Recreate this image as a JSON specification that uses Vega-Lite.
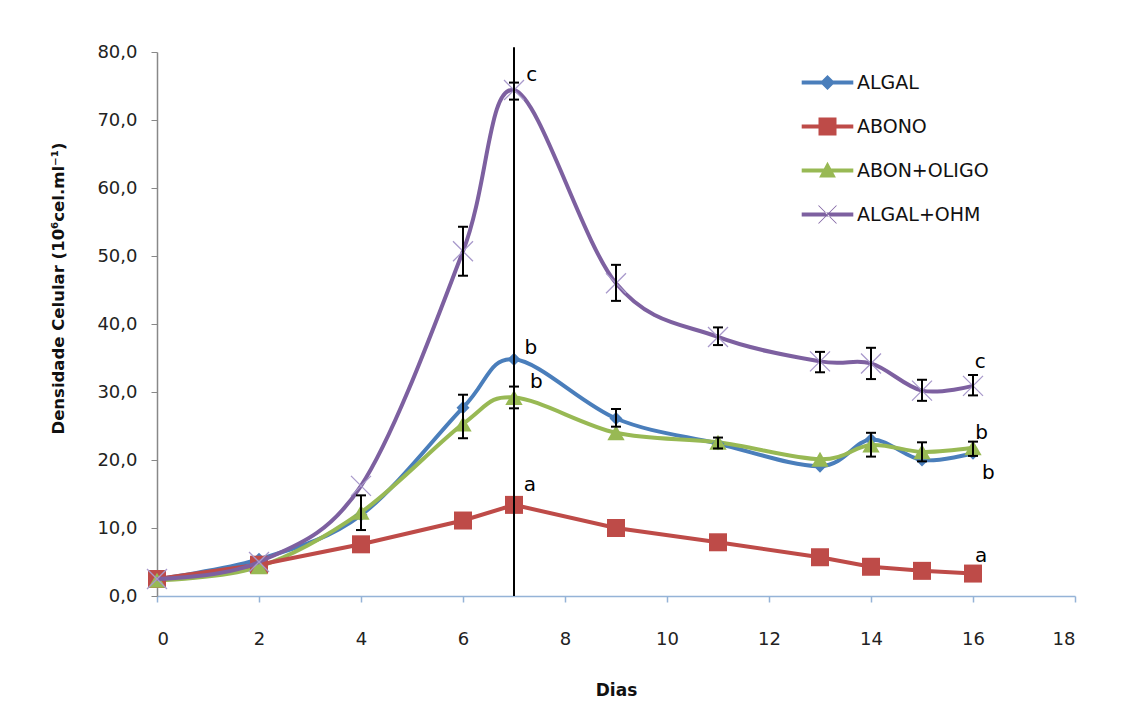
{
  "$schema": "https://vega.github.io/schema/vega-lite/v6.json",
  "width": 918,
  "height": 544,
  "autosize": {"type": "none"},
  "padding": {"left": 157, "top": 52, "right": 65, "bottom": 113},
  "background": "white",
  "config": {
    "view": {"stroke": null},
    "font": "DejaVu Sans",
    "axis": {"grid": false, "labelFont": "DejaVu Sans", "titleFont": "DejaVu Sans", "labelColor": "#222", "titleColor": "#111"}
  },
  "datasets": {
    "pts": [
      {"day": 0, "series": "ALGAL", "val": 2.5},
      {"day": 2, "series": "ALGAL", "val": 5.4},
      {"day": 4, "series": "ALGAL", "val": 11.9},
      {"day": 6, "series": "ALGAL", "val": 27.7},
      {"day": 7, "series": "ALGAL", "val": 34.8},
      {"day": 9, "series": "ALGAL", "val": 26.1},
      {"day": 11, "series": "ALGAL", "val": 22.4},
      {"day": 13, "series": "ALGAL", "val": 19.1},
      {"day": 14, "series": "ALGAL", "val": 23.0},
      {"day": 15, "series": "ALGAL", "val": 20.0},
      {"day": 16, "series": "ALGAL", "val": 21.0},
      {"day": 0, "series": "ABONO", "val": 2.5},
      {"day": 2, "series": "ABONO", "val": 4.6},
      {"day": 4, "series": "ABONO", "val": 7.6},
      {"day": 6, "series": "ABONO", "val": 11.1},
      {"day": 7, "series": "ABONO", "val": 13.4},
      {"day": 9, "series": "ABONO", "val": 10.0},
      {"day": 11, "series": "ABONO", "val": 7.9},
      {"day": 13, "series": "ABONO", "val": 5.7},
      {"day": 14, "series": "ABONO", "val": 4.3},
      {"day": 15, "series": "ABONO", "val": 3.7},
      {"day": 16, "series": "ABONO", "val": 3.3},
      {"day": 0, "series": "ABON+OLIGO", "val": 2.3},
      {"day": 2, "series": "ABON+OLIGO", "val": 4.3},
      {"day": 4, "series": "ABON+OLIGO", "val": 12.3},
      {"day": 6, "series": "ABON+OLIGO", "val": 25.3},
      {"day": 7, "series": "ABON+OLIGO", "val": 29.2},
      {"day": 9, "series": "ABON+OLIGO", "val": 24.0},
      {"day": 11, "series": "ABON+OLIGO", "val": 22.6},
      {"day": 13, "series": "ABON+OLIGO", "val": 20.1},
      {"day": 14, "series": "ABON+OLIGO", "val": 22.2},
      {"day": 15, "series": "ABON+OLIGO", "val": 21.2},
      {"day": 16, "series": "ABON+OLIGO", "val": 21.8},
      {"day": 0, "series": "ALGAL+OHM", "val": 2.5},
      {"day": 2, "series": "ALGAL+OHM", "val": 5.0},
      {"day": 4, "series": "ALGAL+OHM", "val": 16.2},
      {"day": 6, "series": "ALGAL+OHM", "val": 50.7},
      {"day": 7, "series": "ALGAL+OHM", "val": 74.4},
      {"day": 9, "series": "ALGAL+OHM", "val": 46.0},
      {"day": 11, "series": "ALGAL+OHM", "val": 38.1},
      {"day": 13, "series": "ALGAL+OHM", "val": 34.5},
      {"day": 14, "series": "ALGAL+OHM", "val": 34.2},
      {"day": 15, "series": "ALGAL+OHM", "val": 30.2},
      {"day": 16, "series": "ALGAL+OHM", "val": 30.9}
    ],
    "errs": [
      {"day": 4, "lo": 9.7, "hi": 14.8},
      {"day": 6, "lo": 23.2, "hi": 29.6},
      {"day": 7, "lo": 27.6, "hi": 30.8},
      {"day": 9, "lo": 24.9, "hi": 27.5},
      {"day": 11, "lo": 21.7, "hi": 23.3},
      {"day": 14, "lo": 20.5, "hi": 24.0},
      {"day": 15, "lo": 19.8, "hi": 22.6},
      {"day": 16, "lo": 20.6, "hi": 22.7},
      {"day": 6, "lo": 47.1, "hi": 54.3},
      {"day": 7, "lo": 73.0, "hi": 75.5},
      {"day": 9, "lo": 43.4, "hi": 48.7},
      {"day": 11, "lo": 36.9, "hi": 39.5},
      {"day": 13, "lo": 32.9, "hi": 35.9},
      {"day": 14, "lo": 31.9, "hi": 36.5},
      {"day": 15, "lo": 28.7, "hi": 31.8},
      {"day": 16, "lo": 29.5, "hi": 32.5}
    ],
    "labels": [
      {"day": 7.35, "val": 76.6, "txt": "c"},
      {"day": 7.33, "val": 36.5, "txt": "b"},
      {"day": 7.44, "val": 31.5, "txt": "b"},
      {"day": 7.31, "val": 16.3, "txt": "a"},
      {"day": 16.14, "val": 34.4, "txt": "c"},
      {"day": 16.17, "val": 24.0, "txt": "b"},
      {"day": 16.3, "val": 18.1, "txt": "b"},
      {"day": 16.16, "val": 5.9, "txt": "a"}
    ],
    "vline": [{"day": 7, "lo": 0, "hi": 80.7}]
  },
  "layer": [
    {
      "data": {"name": "pts"},
      "transform": [{"filter": "datum.series === 'ALGAL' || datum.series === 'ABON+OLIGO'"}],
      "mark": {"type": "line", "interpolate": "cardinal", "strokeWidth": 4},
      "encoding": {
        "x": {"field": "day", "type": "quantitative", "scale": {"domain": [0, 18], "nice": false},
          "axis": {"values": [0, 2, 4, 6, 8, 10, 12, 14, 16, 18], "title": "Dias", "domainColor": "#95B3D7", "domainWidth": 1.5, "tickColor": "#95B3D7", "tickWidth": 1.5, "tickSize": 6, "labelFontSize": 18, "labelPadding": 28, "titleFontSize": 17, "titleFontWeight": "bold", "titlePadding": 34}},
        "y": {"field": "val", "type": "quantitative", "scale": {"domain": [0, 80], "nice": false},
          "axis": {"values": [0, 10, 20, 30, 40, 50, 60, 70, 80], "labelExpr": "replace(format(datum.value, '.1f'), '.', ',')", "title": "Densidade Celular (10⁶cel.ml⁻¹)", "domainColor": "#888888", "domainWidth": 1.5, "tickColor": "#888888", "tickSize": 6, "labelFontSize": 18, "labelPadding": 14, "titleFontSize": 16.5, "titleFontWeight": "bold", "titlePadding": 30, "titleY": 236}},
        "stroke": {"field": "series", "type": "nominal", "scale": {"domain": ["ALGAL", "ABON+OLIGO"], "range": ["#4A7EBB", "#98B954"]}, "legend": null},
        "order": {"field": "day"}
      }
    },
    {
      "data": {"name": "pts"},
      "transform": [{"filter": "datum.series === 'ABONO'"}],
      "mark": {"type": "line", "strokeWidth": 4, "color": "#BE4B48"},
      "encoding": {
        "x": {"field": "day", "type": "quantitative"},
        "y": {"field": "val", "type": "quantitative"},
        "order": {"field": "day"}
      }
    },
    {
      "data": {"name": "pts"},
      "transform": [{"filter": "datum.series === 'ALGAL'"}],
      "mark": {"type": "point", "filled": true, "opacity": 1, "shape": "diamond", "size": 170, "color": "#4A7EBB"},
      "encoding": {
        "x": {"field": "day", "type": "quantitative"},
        "y": {"field": "val", "type": "quantitative"}
      }
    },
    {
      "data": {"name": "pts"},
      "transform": [{"filter": "datum.series === 'ABONO'"}],
      "mark": {"type": "point", "filled": true, "opacity": 1, "shape": "square", "size": 324, "color": "#BE4B48"},
      "encoding": {
        "x": {"field": "day", "type": "quantitative"},
        "y": {"field": "val", "type": "quantitative"}
      }
    },
    {
      "data": {"name": "pts"},
      "transform": [{"filter": "datum.series === 'ABON+OLIGO'"}],
      "mark": {"type": "point", "filled": true, "opacity": 1, "shape": "triangle-up", "size": 300, "color": "#98B954"},
      "encoding": {
        "x": {"field": "day", "type": "quantitative"},
        "y": {"field": "val", "type": "quantitative"}
      }
    },
    {
      "data": {"name": "pts"},
      "transform": [{"filter": "datum.series === 'ALGAL+OHM'"}],
      "mark": {"type": "line", "interpolate": "cardinal", "strokeWidth": 4, "color": "#7D60A0"},
      "encoding": {
        "x": {"field": "day", "type": "quantitative"},
        "y": {"field": "val", "type": "quantitative"},
        "order": {"field": "day"}
      }
    },
    {
      "data": {"name": "pts"},
      "transform": [{"filter": "datum.series === 'ALGAL+OHM'"}],
      "mark": {"type": "point", "shape": "M-1,-1L1,1M-1,1L1,-1", "size": 400, "filled": false, "stroke": "#A899CB", "strokeWidth": 1.3, "opacity": 1},
      "encoding": {
        "x": {"field": "day", "type": "quantitative"},
        "y": {"field": "val", "type": "quantitative"}
      }
    },
    {
      "data": {"name": "pts"},
      "transform": [{"filter": "datum.day < 0"}],
      "mark": {"type": "point", "filled": true, "opacity": 1},
      "encoding": {
        "x": {"field": "day", "type": "quantitative"},
        "y": {"field": "val", "type": "quantitative"},
        "color": {"field": "series", "type": "nominal",
          "scale": {"domain": ["ALGAL", "ABONO", "ABON+OLIGO", "ALGAL+OHM"], "range": ["#4A7EBB", "#BE4B48", "#98B954", "#7D60A0"]},
          "legend": {
            "title": null, "orient": "none", "legendX": 661, "legendY": 21,
            "symbolSize": 144, "labelFontSize": 19, "labelFont": "DejaVu Sans", "labelColor": "#111",
            "labelOffset": 20, "rowPadding": 24, "padding": 0
          }},
        "shape": {"field": "series", "type": "nominal",
          "scale": {"domain": ["ALGAL", "ABONO", "ABON+OLIGO", "ALGAL+OHM"], "range": [
            "M-4.3,-0.32H4.3V0.32H-4.3Z M0,-1.25L1.25,0L0,1.25L-1.25,0Z",
            "M-4.3,-0.32H4.3V0.32H-4.3Z M-1.5,-1.5H1.5V1.5H-1.5Z",
            "M-4.3,-0.32H4.3V0.32H-4.3Z M0,-1.45L1.4,1.15H-1.4Z",
            "M-4.3,-0.32H4.3V0.32H-4.3Z M-1.55,-1.45L1.45,1.55L1.55,1.45L-1.45,-1.55Z M-1.55,1.45L1.45,-1.55L1.55,-1.45L-1.45,1.55Z"
          ]}}
      }
    },
    {
      "data": {"name": "errs"},
      "mark": {"type": "rule", "color": "black", "strokeWidth": 2},
      "encoding": {
        "x": {"field": "day", "type": "quantitative"},
        "y": {"field": "lo", "type": "quantitative"},
        "y2": {"field": "hi"}
      }
    },
    {
      "data": {"name": "errs"},
      "mark": {"type": "tick", "orient": "horizontal", "color": "black", "thickness": 2, "size": 10, "opacity": 1},
      "encoding": {
        "x": {"field": "day", "type": "quantitative"},
        "y": {"field": "lo", "type": "quantitative"}
      }
    },
    {
      "data": {"name": "errs"},
      "mark": {"type": "tick", "orient": "horizontal", "color": "black", "thickness": 2, "size": 10, "opacity": 1},
      "encoding": {
        "x": {"field": "day", "type": "quantitative"},
        "y": {"field": "hi", "type": "quantitative"}
      }
    },
    {
      "data": {"name": "vline"},
      "mark": {"type": "rule", "color": "black", "strokeWidth": 2},
      "encoding": {
        "x": {"field": "day", "type": "quantitative"},
        "y": {"field": "lo", "type": "quantitative"},
        "y2": {"field": "hi"}
      }
    },
    {
      "data": {"name": "labels"},
      "mark": {"type": "text", "font": "DejaVu Sans", "fontSize": 20, "color": "black", "align": "center", "baseline": "middle"},
      "encoding": {
        "x": {"field": "day", "type": "quantitative"},
        "y": {"field": "val", "type": "quantitative"},
        "text": {"field": "txt"}
      }
    }
  ]
}
